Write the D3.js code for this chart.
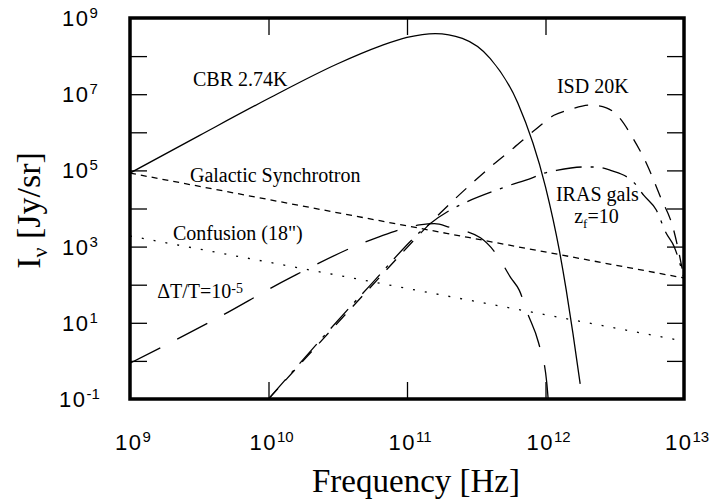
<!DOCTYPE html>
<html>
<head>
<meta charset="utf-8">
<script src="https://cdn.jsdelivr.net/npm/d3@7/dist/d3.min.js"></script>
<style>
body{margin:0;background:#fff;}
</style>
</head>
<body>
<div id="chart"></div>
<script>
(function(){
	var w = 714, h = 503;
	var pl = 130, pr = 684, pt = 18, pb = 399;

	// tick values / labels
	var xTicks = [1e9, 1e10, 1e11, 1e12, 1e13];
	var xTickExp = ["9", "10", "11", "12", "13"];
	var yTicks = [1e-1, 1e1, 1e3, 1e5, 1e7, 1e9];
	var yTickExp = ["-1", "1", "3", "5", "7", "9"];
	var yDecades = [1e0, 1e1, 1e2, 1e3, 1e4, 1e5, 1e6, 1e7, 1e8];
	var xDecades = [1e10, 1e11, 1e12];

	// CBR 2.74K
	var cbrNu = [1e9, 3.16e9, 1e10, 3.16e10, 6.31e10, 1e11, 1.6e11, 2.51e11, 3.98e11, 6.31e11, 1e12, 1.26e12, 1.41e12, 1.58e12, 1.78e12];
	var cbrI  = [8.5e4, 8.2e5, 7.7e6, 6.3e7, 1.8e8, 3.1e8, 3.9e8, 2.9e8, 8.7e7, 5.9e6, 3.7e4, 780, 74, 5.1, 0.25];
	// Galactic Synchrotron
	var synNu = [1e9, 1e11, 1e13];
	var synI  = [8.5e4, 3.5e3, 150];
	// Confusion (18")
	var confNu = [1e9, 1e11, 1e13];
	var confI  = [1.9e3, 80, 3.3];
	// dT/T = 1e-5
	var dtNu = [1e9, 4.3e9, 1.43e10, 6.0e10, 1.23e11, 1.58e11, 2.04e11, 3.39e11, 4.47e11, 5.62e11, 6.46e11, 7.41e11, 8.91e11, 1.02e12, 1.05e12];
	var dtI  = [0.87, 13.5, 151, 1700, 3700, 4000, 3200, 1700, 600, 151, 72, 18, 3.0, 0.28, 0.08];
	// ISD 20K
	var isdNu = [1e10, 5.37e10, 1.41e11, 1.74e11, 3.02e11, 4.17e11, 5.89e11, 8.51e11, 1.15e12, 1.48e12, 2.09e12, 2.75e12, 3.39e12, 4.27e12, 5.37e12, 6.76e12, 8.32e12, 1e13];
	var isdI  = [0.1, 81, 3.5e3, 7.6e3, 5.0e4, 1.4e5, 3.9e5, 1.2e6, 2.8e6, 3.9e6, 5.2e6, 4.4e6, 2.5e6, 7.1e5, 1.5e5, 2.0e4, 3.2e3, 150];
	// IRAS gals zf=10
	var irasNu = [1e10, 5.37e10, 1.41e11, 5.01e11, 7.94e11, 9.77e11, 1.2e12, 1.91e12, 2.34e12, 2.95e12, 4.37e12, 5.13e12, 6.31e12, 7.41e12, 8.51e12, 1e13];
	var irasI  = [0.1, 93, 3.6e3, 3.6e4, 6.3e4, 8.5e4, 1.0e5, 1.23e5, 1.23e5, 1.0e5, 4.7e4, 2.2e4, 9.1e3, 2.3e3, 980, 150];

	var svg = d3.select("#chart")
				.append("svg")
				.attr("width", w)
				.attr("height", h);

	var x = d3.scaleLog().domain([1e9, 1e13]).range([pl, pr]);
	var y = d3.scaleLog().domain([1e-1, 1e9]).range([pb, pt]);

	svg.append("clipPath").attr("id", "plotclip")
		.append("rect")
		.attr("x", pl).attr("y", pt)
		.attr("width", pr - pl).attr("height", pb - pt);

	// inward ticks on all 4 sides
	function tickAxis(axis, vals, tx, ty){
		var g = svg.append("g")
				.attr("transform", "translate(" + tx + "," + ty + ")")
				.call(axis.tickValues(vals).tickSizeInner(-17).tickSizeOuter(0).tickFormat(""));
		g.select(".domain").remove();
		g.selectAll("line").attr("stroke", "#000").attr("stroke-width", 1.3);
	}
	tickAxis(d3.axisLeft(y), yDecades, pl, 0);
	tickAxis(d3.axisRight(y), yDecades, pr, 0);
	tickAxis(d3.axisBottom(x), xDecades, 0, pb);
	tickAxis(d3.axisTop(x), xDecades, 0, pt);

	// curves
	var line = d3.line()
				.x(function(d){ return x(d[0]); })
				.y(function(d){ return y(d[1]); })
				.curve(d3.curveMonotoneX);

	function pairs(a, b){
		return a.map(function(v, i){ return [v, b[i]]; });
	}
	var series = [
		{pts: pairs(cbrNu, cbrI), dash: null},
		{pts: pairs(synNu, synI), dash: "6,5"},
		{pts: pairs(confNu, confI), dash: "2,10"},
		{pts: pairs(dtNu, dtI), dash: "34,19"},
		{pts: pairs(isdNu, isdI), dash: "14,11"},
		{pts: pairs(irasNu, irasI), dash: "26,9,3,9"}
	];
	svg.append("g")
		.attr("clip-path", "url(#plotclip)")
		.selectAll("path")
		.data(series)
		.enter()
		.append("path")
		.attr("d", function(d){ return line(d.pts); })
		.attr("fill", "none")
		.attr("stroke", "#000")
		.attr("stroke-width", 1.3)
		.attr("stroke-dasharray", function(d){ return d.dash; });

	// frame
	svg.append("rect")
		.attr("x", pl).attr("y", pt)
		.attr("width", pr - pl).attr("height", pb - pt)
		.attr("fill", "none")
		.attr("stroke", "#000")
		.attr("stroke-width", 3.5);

	// tick labels (10 with superscript)
	var sans = "'Liberation Sans', Arial, sans-serif";
	var yl = svg.selectAll(".ylab")
				.data(yTicks)
				.enter()
				.append("text")
				.attr("class", "ylab")
				.attr("x", function(d){ return d < 1 ? 59 : 62; })
				.attr("y", function(d){ return y(d) + 8; })
				.attr("font-family", sans)
				.attr("font-size", 22);
	yl.append("tspan").attr("letter-spacing", 1.5).text("10");
	yl.append("tspan").attr("dy", -8).attr("font-size", 15)
		.text(function(d, i){ return yTickExp[i]; });

	var xl = svg.selectAll(".xlab")
				.data(xTicks)
				.enter()
				.append("text")
				.attr("class", "xlab")
				.attr("x", function(d){ return x(d) + 3; })
				.attr("y", 450)
				.attr("text-anchor", "middle")
				.attr("font-family", sans)
				.attr("font-size", 22);
	xl.append("tspan").attr("letter-spacing", 1.5).text("10");
	xl.append("tspan").attr("dy", -8).attr("font-size", 15)
		.text(function(d, i){ return xTickExp[i]; });

	// axis titles
	var serif = "'Liberation Serif', 'Times New Roman', serif";
	svg.append("text")
		.attr("x", 416).attr("y", 492)
		.attr("text-anchor", "middle")
		.attr("font-family", serif)
		.attr("font-size", 33)
		.text("Frequency [Hz]");

	var yt = svg.append("text")
				.attr("transform", "translate(40," + ((pt + pb) / 2 + 2) + ") rotate(-90)")
				.attr("text-anchor", "middle")
				.attr("font-family", serif)
				.attr("font-size", 34);
	yt.append("tspan").text("I");
	yt.append("tspan").attr("dy", 7).attr("font-size", 22).text("ν");
	yt.append("tspan").attr("dy", -7).text(" [Jy/sr]");

	// curve annotations (placed in data units)
	function note(nu, I){
		return svg.append("text")
				.attr("x", x(nu)).attr("y", y(I))
				.attr("font-family", serif)
				.attr("font-size", 20);
	}
	note(2.85e9, 1.64e7).text("CBR 2.74K");
	note(2.71e9, 4.95e4).text("Galactic Synchrotron");
	note(2.04e9, 1.49e3).text("Confusion (18\")");
	var dt = note(1.57e9, 44.8);
	dt.append("tspan").text("ΔT/T=10");
	dt.append("tspan").attr("dy", -5).attr("font-size", 14).text("-5");
	note(1.21e12, 1.07e7).text("ISD 20K");
	note(1.19e12, 1.57e4).text("IRAS gals");
	var zf = note(1.61e12, 4.17e3);
	zf.append("tspan").text("z");
	zf.append("tspan").attr("dy", 5).attr("font-size", 13).text("f");
	zf.append("tspan").attr("dy", -5).text("=10");
})();
</script>
</body>
</html>
